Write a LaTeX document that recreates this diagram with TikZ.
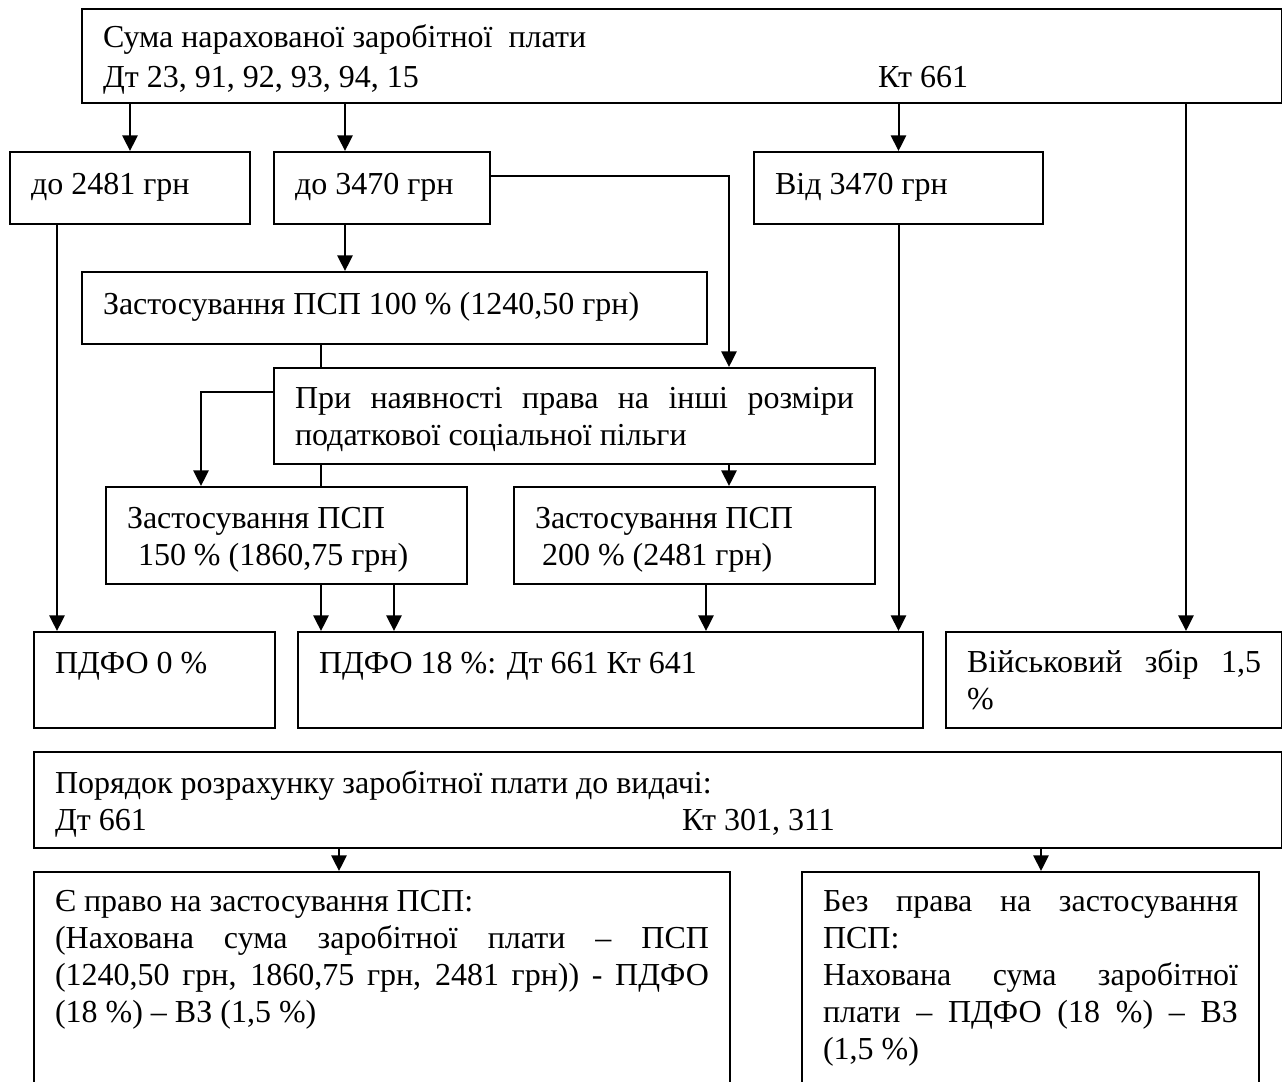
\documentclass[tikz,border=0pt]{standalone}
\usepackage{fontspec}
\setmainfont{Liberation Serif}
\usetikzlibrary{arrows.meta}
\hyphenpenalty=10000
\exhyphenpenalty=10000

\tikzstyle{box} = [draw, rectangle, line width=0.9pt, anchor=north west, inner xsep=9.45pt, inner ysep=0pt, align=justify, font=\fontsize{14.4}{16.65}\selectfont]
\tikzstyle{arrow} = [draw, line width=0.9pt, -{Triangle[length=7pt,width=6.8pt]}]
\tikzstyle{link} = [draw, line width=0.9pt]

\begin{document}
\begin{tikzpicture}[x=0.45pt, y=-0.45pt]
  \useasboundingbox (0,0) rectangle (1282,1081);

  % accrual and the three ranges
  \node[box, text width=521.1pt, text height=17.1pt, text depth=25.2pt] (sum) at (81,8)
    {Сума нарахованої заробітної\ \ плати\\[1.35pt]\makebox[348.75pt][l]{Дт 23, 91, 92, 93, 94, 15}Кт 661};
  \node[box, text width=89.1pt, text height=18.9pt, text depth=13.5pt] (le2481) at (9,151) {до 2481 грн};
  \node[box, text width=78.3pt, text height=18.9pt, text depth=13.5pt] (le3470) at (273,151) {до 3470 грн};
  \node[box, text width=111.15pt, text height=18.9pt, text depth=13.5pt] (from3470) at (753,151) {Від 3470 грн};

  % tax social benefit
  \node[box, text width=262.35pt, text height=18.9pt, text depth=13.5pt] (psp100) at (81,271)
    {Застосування ПСП 100 \% (1240,50 грн)};
  \node[box, text width=251.55pt, text height=18pt, text depth=25.2pt] (other) at (273,367)
    {При наявності права на інші розміри\linebreak податкової соціальної пільги};
  \node[box, text width=143.55pt, text height=18.45pt, text depth=25.2pt] (psp150) at (105,486)
    {Застосування ПСП\\\hspace*{4.95pt}150 \% (1860,75 грн)};
  \node[box, text width=143.55pt, text height=18.45pt, text depth=25.2pt] (psp200) at (513,486)
    {Застосування ПСП\\\hspace*{3.15pt}200 \% (2481 грн)};

  % taxes
  \node[box, text width=89.55pt, text height=18.45pt, text depth=24.75pt] (pdfo0) at (33,631) {ПДФО 0 \%};
  \node[box, text width=262.35pt, text height=18.45pt, text depth=24.75pt] (pdfo18) at (297,631) {ПДФО 18 \%: Дт 661 Кт 641};
  \node[box, text width=132.3pt, text height=18pt, text depth=25.2pt] (war) at (945,631) {Військовий збір 1,5\linebreak\%};

  % payout
  \node[box, text width=542.7pt, text height=18.45pt, text depth=24.75pt] (payout) at (33,751)
    {Порядок розрахунку заробітної плати до видачі:\\\makebox[282.15pt][l]{Дт 661}Кт 301, 311};
  \node[box, text width=294.3pt, text height=17.55pt, text depth=85.5pt] (withpsp) at (33,871)
    {Є право на застосування ПСП:\\(Нахована сума заробітної плати – ПСП\linebreak (1240,50 грн, 1860,75 грн, 2481 грн)) - ПДФО\linebreak (18 \%) – ВЗ (1,5 \%)};
  \node[box, text width=186.75pt, text height=17.55pt, text depth=85.5pt] (nopsp) at (801,871)
    {Без права на застосування\linebreak ПСП:\\Нахована сума заробітної\linebreak плати – ПДФО (18 \%) – ВЗ\linebreak (1,5 \%)};

  % guide columns
  \coordinate (g57) at (57,0);
  \coordinate (g201) at (201,0);
  \coordinate (g321) at (321,0);
  \coordinate (g339) at (339,0);
  \coordinate (g345) at (345,0);
  \coordinate (g394) at (394,0);
  \coordinate (g706) at (706,0);
  \coordinate (g729) at (729,0);
  \coordinate (g1041) at (1041,0);
  \coordinate (g1186) at (1186,0);

  \draw [arrow] (le2481.north |- sum.south) to (le2481.north);
  \draw [arrow] (g345 |- sum.south) to (g345 |- le3470.north);
  \draw [arrow] (from3470.north |- sum.south) to (from3470.north);
  \draw [arrow] (g1186 |- sum.south) to (g1186 |- war.north);

  \draw [arrow] (g57 |- le2481.south) to (g57 |- pdfo0.north);
  \draw [arrow] (g345 |- le3470.south) to (g345 |- psp100.north);
  \draw [arrow] ([yshift=5.4pt]le3470.east) -| (g729 |- other.north);
  \draw [arrow] (from3470.south) to (from3470.south |- pdfo18.north);

  \draw [link] (g321 |- psp100.south) to (g321 |- other.north);
  \draw [arrow] ([yshift=10.8pt]other.west) -| (g201 |- psp150.north);
  \draw [link] (g321 |- other.south) to (g321 |- psp150.north);
  \draw [arrow] (g729 |- other.south) to (g729 |- psp200.north);

  \draw [arrow] (g321 |- psp150.south) to (g321 |- pdfo18.north);
  \draw [arrow] (g394 |- psp150.south) to (g394 |- pdfo18.north);
  \draw [arrow] (g706 |- psp200.south) to (g706 |- pdfo18.north);

  \draw [arrow] (g339 |- payout.south) to (g339 |- withpsp.north);
  \draw [arrow] (g1041 |- payout.south) to (g1041 |- nopsp.north);
\end{tikzpicture}
\end{document}
